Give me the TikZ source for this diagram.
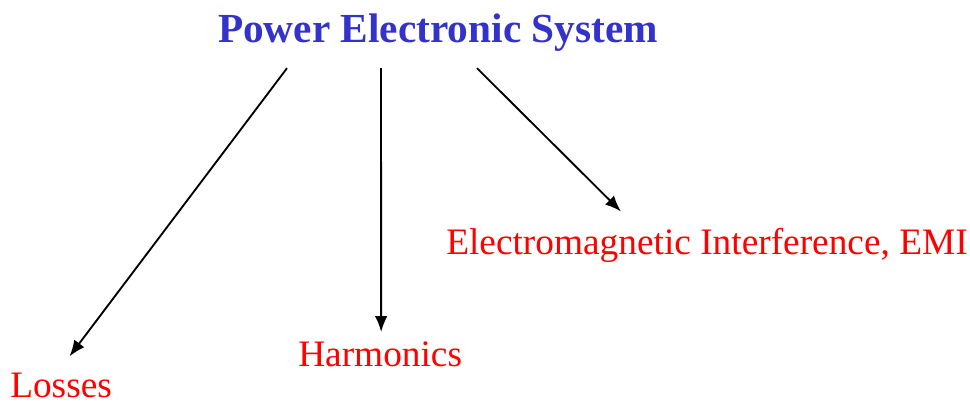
\documentclass[tikz,border=0pt]{standalone}
\usepackage{fontspec}
\setmainfont{Liberation Serif}
\usetikzlibrary{arrows.meta,calc}
\definecolor{titleblue}{HTML}{3333CC}

\begin{document}
\begin{tikzpicture}[x=0.75pt, y=-0.75pt, >={Latex[length=12pt,width=9.5pt]},
        titletext/.style={inner sep=0pt, text=titleblue, font=\fontsize{31}{36}\selectfont\bfseries},
        itemtext/.style={inner sep=0pt, text=red, font=\fontsize{28}{33}\selectfont},
        branch/.style={->, line width=1.4pt}]
        \useasboundingbox (0,0) rectangle (970,403);

        % Top
        \node[titletext, anchor=base] (title) at (438,43) {Power Electronic System};

        % Effects
        \node[itemtext, anchor=base west] (losses) at (10,397) {Losses};
        \node[itemtext, anchor=base west] (harmonics) at (298,366) {Harmonics};
        \node[itemtext, anchor=base west] (emi) at (446,254) {Electromagnetic Interference, EMI};

        % Arrows
        \draw[branch] ($(title.south)+(-151,16)$) -- ($(losses.north)+(8.5,-16)$);
        \draw[branch] ($(title.south)+(-57,16)$) -- ($(harmonics.north)+(1,-9)$);
        \draw[branch] ($(title.south)+(39,16)$) -- ($(emi.north)+(-86,-16)$);
    \end{tikzpicture}
\end{document}
